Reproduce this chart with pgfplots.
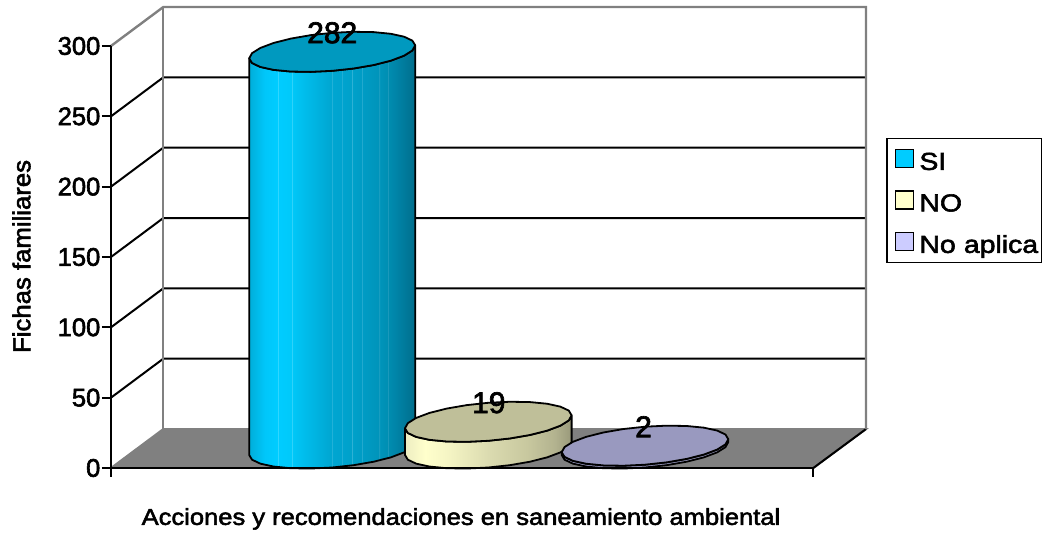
\documentclass[border=0pt]{standalone}
\usepackage{fontspec}
\setmainfont{Liberation Sans}[FakeBold=2.3]
\usepackage{pgfplots}
\usepackage{pgfplotstable}
\pgfplotsset{compat=1.18}

% Side shading of each cylinder: base gradient with thin lighter slat lines
\pgfdeclarehorizontalshading{cylsi}{100bp}{
 rgb(0bp)=(0,.68,.85); rgb(25bp)=(0,.68,.85); rgb(29.75bp)=(0,.78,.98); rgb(33.4bp)=(0,.80,1);
 rgb(33.6bp)=(.25,.85,1); rgb(33.9bp)=(0,.80,1);
 rgb(37.7bp)=(0,.79,.98); rgb(37.85bp)=(.22,.83,.98); rgb(38.1bp)=(0,.78,.97);
 rgb(49.7bp)=(0,.65,.82); rgb(49.85bp)=(.2,.72,.86); rgb(50.1bp)=(0,.65,.82);
 rgb(52.7bp)=(0,.64,.81); rgb(52.85bp)=(.2,.71,.85); rgb(53.1bp)=(0,.64,.81);
 rgb(55.8bp)=(0,.63,.79); rgb(55.95bp)=(.2,.7,.84); rgb(56.2bp)=(0,.63,.79);
 rgb(58.8bp)=(0,.61,.77); rgb(58.95bp)=(.18,.68,.82); rgb(59.2bp)=(0,.61,.77);
 rgb(64bp)=(0,.58,.73); rgb(64.15bp)=(.15,.64,.77); rgb(64.4bp)=(0,.58,.73);
 rgb(66.6bp)=(0,.56,.70); rgb(66.75bp)=(.15,.62,.75); rgb(67bp)=(0,.55,.69);
 rgb(69bp)=(0,.52,.66); rgb(75bp)=(0,.43,.55); rgb(100bp)=(0,.43,.55)}
\pgfdeclarehorizontalshading{cylno}{100bp}{
 rgb(0bp)=(.93,.93,.76); rgb(25bp)=(.93,.93,.76); rgb(31bp)=(1,1,.80); rgb(38bp)=(.96,.96,.77);
 rgb(50bp)=(.86,.86,.69); rgb(62bp)=(.78,.78,.62); rgb(70bp)=(.70,.70,.56); rgb(75bp)=(.60,.60,.48); rgb(100bp)=(.60,.60,.48)}
\pgfdeclarehorizontalshading{cylna}{100bp}{
 rgb(0bp)=(.6,.6,.75); rgb(100bp)=(.6,.6,.75)}

% Outline of a cylinder side, as angle on the ellipse and level (0 floor, 1 top)
\pgfplotstableread{
a lvl
180 0
195 0
210 0
225 0
240 0
255 0
270 0
285 0
300 0
315 0
330 0
345 0
360 0
360 1
345 1
330 1
315 1
300 1
285 1
270 1
255 1
240 1
225 1
210 1
195 1
180 1
180 0
}\cylside
% Outline of a cylinder top
\pgfplotstableread{
a lvl
0 1
15 1
30 1
45 1
60 1
75 1
90 1
105 1
120 1
135 1
150 1
165 1
180 1
195 1
210 1
225 1
240 1
255 1
270 1
285 1
300 1
315 1
330 1
345 1
360 1
}\cyltop

% #1 centre on the x axis, #2 half width, #3 value, #4 side shading, #5 top colour
\newcommand\cylinder[5]{%
  \addplot[forget plot, shade, shading=#4, draw=black, line width=1.8pt, line join=round]
    table[x expr={#1+#2*cos(\thisrow{a})},
          y expr={\thisrow{lvl}*#3+13.85+(19*sin(\thisrow{a})+6.5*cos(\thisrow{a}))/1.4067}] {\cylside};
  \addplot[forget plot, fill=#5, draw=black, line width=1.8pt, line join=round]
    table[x expr={#1+#2*cos(\thisrow{a})},
          y expr={#3+13.85+(19*sin(\thisrow{a})+6.5*cos(\thisrow{a}))/1.4067}] {\cyltop};
}

\definecolor{wallgray}{HTML}{808080}
\definecolor{topsi}{HTML}{0099BF}
\definecolor{topno}{HTML}{BFBF99}
\definecolor{topna}{HTML}{9999BF}
\definecolor{keysi}{HTML}{00CCFF}
\definecolor{keyno}{HTML}{FFFFCC}
\definecolor{keyna}{HTML}{CCCCFF}

\begin{document}
\begin{tikzpicture}[x=1pt,y=1pt]
\begin{axis}[
  scale only axis, width=702pt, height=422pt,
  xmin=111, xmax=813, ymin=0, ymax=300,
  clip=false,
  axis on top,
  axis lines=left,
  axis line style={-, line width=2pt, black},
  tick style={black, line width=2pt},
  tick align=outside,
  major tick length=9pt,
  xtick={111,813}, xticklabels={,},
  ytick={0,50,...,300},
  yticklabel style={font=\fontsize{25.5}{27}\selectfont, inner sep=1.5pt},
  /pgf/number format/assume math mode=true,
  every axis x label/.style={at={(axis cs:461,-36.2)}, anchor=center},
  every axis y label/.style={at={(axis cs:21.5,150.4)}, rotate=90, anchor=center},
  xlabel={Acciones y recomendaciones en saneamiento ambiental},
  ylabel={Fichas familiares},
  xlabel style={font=\fontsize{23}{25}\selectfont\addfontfeature{FakeStretch=1.11}},
  ylabel style={font=\fontsize{24.5}{26}\selectfont\addfontfeature{FakeStretch=1.05}},
  legend style={
    at={(axis description cs:1.104,0.783)}, anchor=north west,
    draw=black, line width=1.6pt, inner xsep=8pt, inner ysep=6.5pt,
    font=\fontsize{24.5}{27}\selectfont\addfontfeature{FakeStretch=1.16},
    nodes={text height=23pt, text depth=1pt},
    row sep=13.5pt,
    column sep=3pt,
    legend cell align=left,
    /tikz/column 2/.style={nodes={text width=112pt}},
  },
  legend image code/.code={\draw[#1, line width=1.6pt] (0pt,-8.5pt) rectangle (18pt,9.5pt);},
]
% Floor and back wall
\addplot[forget plot, fill=wallgray, draw=wallgray, line width=2pt]
  coordinates {(111,0) (163.3,27.7) (866,27.7) (813.3,0) (111,0)};
\addplot[forget plot, draw=black, line width=2pt] coordinates {(813.3,0) (866,27.7)};
% Grid lines over side and back walls
\addplot[forget plot, black, line width=2pt] coordinates {(111,50) (163.3,77.7) (866,77.7)};
\addplot[forget plot, black, line width=2pt] coordinates {(111,100) (163.3,127.7) (866,127.7)};
\addplot[forget plot, black, line width=2pt] coordinates {(111,150) (163.3,177.7) (866,177.7)};
\addplot[forget plot, black, line width=2pt] coordinates {(111,200) (163.3,227.7) (866,227.7)};
\addplot[forget plot, black, line width=2pt] coordinates {(111,250) (163.3,277.7) (866,277.7)};
\addplot[forget plot, wallgray, line width=2.4pt, line join=miter]
  coordinates {(111,300) (163.3,327.7) (866,327.7) (866,27.7)};
\addplot[forget plot, wallgray, line width=2.4pt] coordinates {(163.3,27.7) (163.3,327.7)};

% Cylinders
\cylinder{332.2}{83}{282}{cylsi}{topsi}
\cylinder{488.3}{83.3}{19}{cylno}{topno}
\cylinder{645}{83.3}{2}{cylna}{topna}

% Value labels
\addplot[forget plot, draw=none, mark=none, point meta=y,
  nodes near coords,
  every node near coord/.append style={anchor=center, yshift=38.5pt, font=\fontsize{30}{32}\selectfont, inner sep=0pt}]
  coordinates {(332.2,282) (488.8,19) (643.5,2)};

% Legend
\addlegendimage{fill=keysi}
\addlegendentry{SI}
\addlegendimage{fill=keyno}
\addlegendentry{NO}
\addlegendimage{fill=keyna}
\addlegendentry{\mbox{No aplica}}

% Page extent
\coordinate (pageA) at (axis cs:0,-46.2);
\coordinate (pageB) at (axis cs:1043,332.7);
\end{axis}
\pgfresetboundingbox
\useasboundingbox (pageA) rectangle (pageB);
\end{tikzpicture}
\end{document}
